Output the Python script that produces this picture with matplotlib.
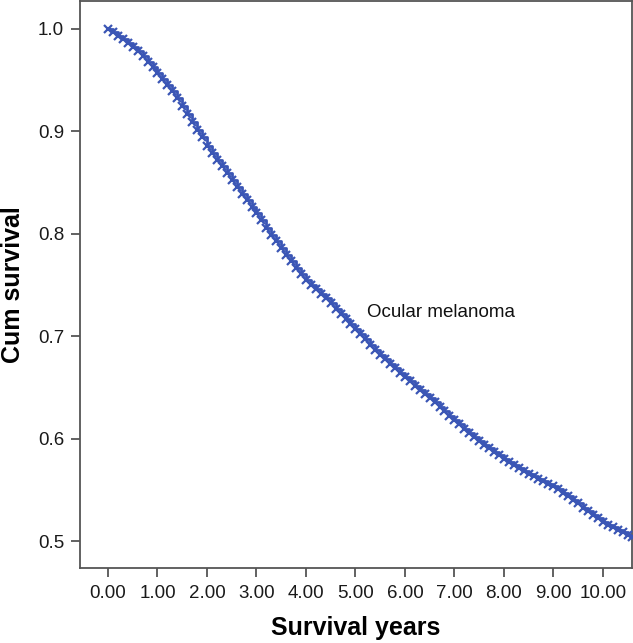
import matplotlib
matplotlib.use("Agg")
import matplotlib.pyplot as plt
from matplotlib.ticker import FormatStrFormatter

plt.rcParams['font.family'] = ['Liberation Sans', 'DejaVu Sans']

years = [0.0, 0.1, 0.2, 0.3, 0.4, 0.5, 0.6, 0.7, 0.8, 0.9,
         1.0, 1.1, 1.2, 1.3, 1.4, 1.5, 1.6, 1.7, 1.8, 1.9,
         2.0, 2.1, 2.2, 2.3, 2.4, 2.5, 2.6, 2.7, 2.8, 2.9,
         3.0, 3.1, 3.2, 3.3, 3.4, 3.5, 3.6, 3.7, 3.8, 3.9,
         4.0, 4.1, 4.2, 4.3, 4.4, 4.5, 4.6, 4.7, 4.8, 4.9,
         5.0, 5.1, 5.2, 5.3, 5.4, 5.5, 5.6, 5.7, 5.8, 5.9,
         6.0, 6.1, 6.2, 6.3, 6.4, 6.5, 6.6, 6.7, 6.8, 6.9,
         7.0, 7.1, 7.2, 7.3, 7.4, 7.5, 7.6, 7.7, 7.8, 7.9,
         8.0, 8.1, 8.2, 8.3, 8.4, 8.5, 8.6, 8.7, 8.8, 8.9,
         9.0, 9.1, 9.2, 9.3, 9.4, 9.5, 9.6, 9.7, 9.8, 9.9,
         10.0, 10.1, 10.2, 10.3, 10.4, 10.5, 10.6]
survival = [1.000, 0.997, 0.993, 0.990, 0.986, 0.982, 0.978, 0.973, 0.968, 0.963,
            0.957, 0.951, 0.945, 0.939, 0.932, 0.925, 0.917, 0.909, 0.901, 0.894,
            0.886, 0.879, 0.872, 0.866, 0.859, 0.852, 0.846, 0.839, 0.833, 0.826,
            0.820, 0.813, 0.806, 0.799, 0.793, 0.786, 0.779, 0.773, 0.767, 0.761,
            0.755, 0.750, 0.746, 0.741, 0.737, 0.732, 0.727, 0.722, 0.717, 0.712,
            0.707, 0.702, 0.697, 0.692, 0.687, 0.682, 0.678, 0.673, 0.669, 0.664,
            0.660, 0.656, 0.652, 0.648, 0.644, 0.640, 0.636, 0.631, 0.627, 0.622,
            0.618, 0.614, 0.610, 0.606, 0.602, 0.598, 0.594, 0.591, 0.587, 0.584,
            0.580, 0.577, 0.574, 0.572, 0.569, 0.566, 0.564, 0.561, 0.559, 0.556,
            0.554, 0.551, 0.547, 0.544, 0.540, 0.537, 0.533, 0.530, 0.526, 0.523,
            0.519, 0.516, 0.514, 0.511, 0.509, 0.506, 0.504]

x_ticks = [0, 1, 2, 3, 4, 5, 6, 7, 8, 9, 10]
y_ticks = [0.5, 0.6, 0.7, 0.8, 0.9, 1.0]
series_label = "Ocular melanoma"

color = '#3b56b5'

fig = plt.figure(figsize=(6.33, 6.43), dpi=100)
ax = fig.add_axes([0.1264, 0.1166, 0.872, 0.8818])

ax.plot(years, survival, drawstyle='steps-post', color=color, lw=2.0, zorder=3)
ax.plot(years, survival, linestyle='none', marker='x', markersize=6,
        markeredgewidth=1.6, color=color, zorder=4)

ax.set_xlim(-0.566, 10.59)
ax.set_ylim(0.474, 1.027)
ax.set_xticks(x_ticks)
ax.set_yticks(y_ticks)
ax.xaxis.set_major_formatter(FormatStrFormatter('%.2f'))
ax.yaxis.set_major_formatter(FormatStrFormatter('%.1f'))

ax.tick_params(axis='both', direction='out', length=6.5, width=1.3,
               color='#555555', labelsize=13.5, labelcolor='#1a1a1a')
ax.tick_params(axis='x', pad=6)
ax.tick_params(axis='y', pad=5)

for s in ax.spines.values():
    s.set_color('#555555')
    s.set_linewidth(1.3)

ax.set_xlabel('Survival years', fontsize=18, fontweight='bold', labelpad=10)
ax.set_ylabel('Cum survival', fontsize=18, fontweight='bold', labelpad=9)

ax.text(5.23, 0.7236, series_label, fontsize=13.5, ha='left', va='center',
        color='#111111')

fig.savefig('out.png', dpi=100)
